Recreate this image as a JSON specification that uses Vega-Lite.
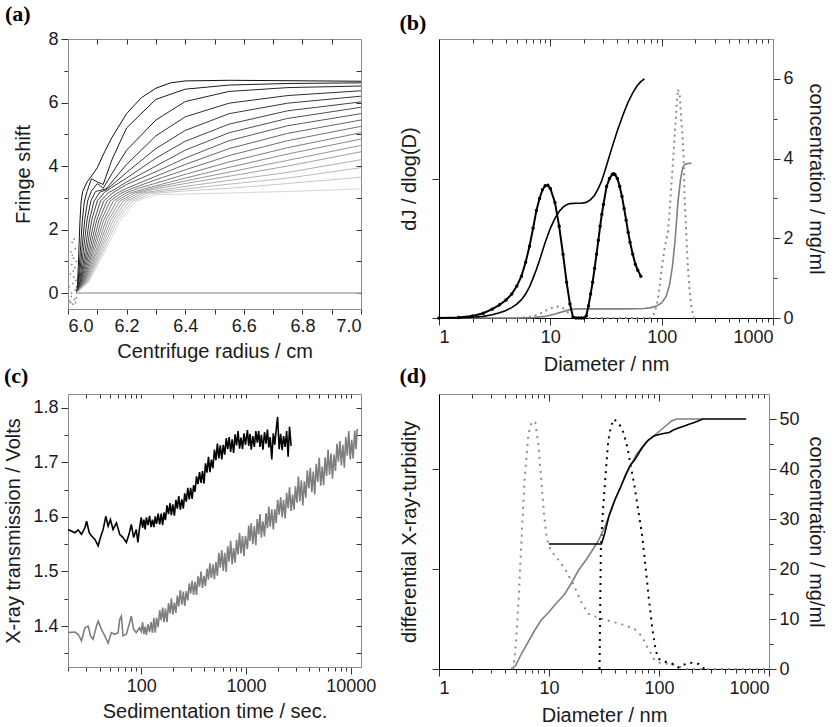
{
"$schema": "https://vega.github.io/schema/vega-lite/v6.json",
"background": "white",
"padding": {"left": 3, "top": 2, "right": 0, "bottom": 0},
"columns": 2,
"align": "each",
"spacing": {"row": -11, "column": 22},
"datasets": {
"a": [
{"k":0,"r":6.03,"f":0},{"k":0,"r":6.033,"f":0.35},{"k":0,"r":6.037,"f":1.3},{"k":0,"r":6.041,"f":2.3},{"k":0,"r":6.045,"f":2.9},{"k":0,"r":6.05,"f":3.2},{"k":0,"r":6.065,"f":3.5},{"k":0,"r":6.08,"f":3.68},{"k":0,"r":6.1,"f":3.95},{"k":0,"r":6.125,"f":4.45},{"k":0,"r":6.15,"f":4.9},{"k":0,"r":6.2,"f":5.65},{"k":0,"r":6.25,"f":6.15},{"k":0,"r":6.3,"f":6.45},{"k":0,"r":6.35,"f":6.62},{"k":0,"r":6.4,"f":6.68},{"k":0,"r":6.55,"f":6.7},{"k":0,"r":7,"f":6.67},
{"k":1,"r":6.03,"f":0},{"k":1,"r":6.035,"f":0.35},{"k":1,"r":6.042,"f":1.3},{"k":1,"r":6.049,"f":2.3},{"k":1,"r":6.056,"f":2.9},{"k":1,"r":6.065,"f":3.2},{"k":1,"r":6.08,"f":3.6},{"k":1,"r":6.1,"f":3.5},{"k":1,"r":6.12,"f":3.42},{"k":1,"r":6.15,"f":4.2},{"k":1,"r":6.2,"f":5.2},{"k":1,"r":6.3,"f":6.1},{"k":1,"r":6.4,"f":6.42},{"k":1,"r":6.55,"f":6.55},{"k":1,"r":6.75,"f":6.6},{"k":1,"r":7,"f":6.62},
{"k":2,"r":6.03,"f":0},{"k":2,"r":6.037,"f":0.35},{"k":2,"r":6.047,"f":1.3},{"k":2,"r":6.057,"f":2.3},{"k":2,"r":6.067,"f":2.9},{"k":2,"r":6.079,"f":3.2},{"k":2,"r":6.1,"f":3.45},{"k":2,"r":6.12,"f":3.3},{"k":2,"r":6.15,"f":3.76},{"k":2,"r":6.2,"f":4.5},{"k":2,"r":6.3,"f":5.45},{"k":2,"r":6.4,"f":6.03},{"k":2,"r":6.55,"f":6.35},{"k":2,"r":6.75,"f":6.47},{"k":2,"r":7,"f":6.52},
{"k":3,"r":6.03,"f":0},{"k":3,"r":6.04,"f":0.35},{"k":3,"r":6.052,"f":1.3},{"k":3,"r":6.065,"f":2.3},{"k":3,"r":6.078,"f":2.9},{"k":3,"r":6.094,"f":3.2},{"k":3,"r":6.13,"f":3.28},{"k":3,"r":6.15,"f":3.5},{"k":3,"r":6.2,"f":4.05},{"k":3,"r":6.3,"f":4.95},{"k":3,"r":6.4,"f":5.55},{"k":3,"r":6.55,"f":5.98},{"k":3,"r":6.75,"f":6.22},{"k":3,"r":7,"f":6.37},
{"k":4,"r":6.03,"f":0},{"k":4,"r":6.042,"f":0.35},{"k":4,"r":6.058,"f":1.3},{"k":4,"r":6.073,"f":2.3},{"k":4,"r":6.089,"f":2.9},{"k":4,"r":6.109,"f":3.18},{"k":4,"r":6.13,"f":3.25},{"k":4,"r":6.15,"f":3.4},{"k":4,"r":6.2,"f":3.8},{"k":4,"r":6.3,"f":4.55},{"k":4,"r":6.4,"f":5.12},{"k":4,"r":6.55,"f":5.65},{"k":4,"r":6.75,"f":5.98},{"k":4,"r":7,"f":6.2},
{"k":5,"r":6.03,"f":0},{"k":5,"r":6.044,"f":0.35},{"k":5,"r":6.063,"f":1.3},{"k":5,"r":6.081,"f":2.3},{"k":5,"r":6.1,"f":2.9},{"k":5,"r":6.124,"f":3.17},{"k":5,"r":6.15,"f":3.33},{"k":5,"r":6.2,"f":3.62},{"k":5,"r":6.3,"f":4.25},{"k":5,"r":6.4,"f":4.78},{"k":5,"r":6.55,"f":5.32},{"k":5,"r":6.75,"f":5.74},{"k":5,"r":7,"f":6.02},
{"k":6,"r":6.03,"f":0},{"k":6,"r":6.046,"f":0.35},{"k":6,"r":6.068,"f":1.3},{"k":6,"r":6.09,"f":2.3},{"k":6,"r":6.111,"f":2.9},{"k":6,"r":6.138,"f":3.16},{"k":6,"r":6.16,"f":3.27},{"k":6,"r":6.2,"f":3.5},{"k":6,"r":6.3,"f":4.0},{"k":6,"r":6.4,"f":4.5},{"k":6,"r":6.55,"f":5.05},{"k":6,"r":6.75,"f":5.5},{"k":6,"r":7,"f":5.85},
{"k":7,"r":6.03,"f":0},{"k":7,"r":6.048,"f":0.35},{"k":7,"r":6.073,"f":1.3},{"k":7,"r":6.098,"f":2.3},{"k":7,"r":6.122,"f":2.9},{"k":7,"r":6.153,"f":3.16},{"k":7,"r":6.2,"f":3.42},{"k":7,"r":6.3,"f":3.82},{"k":7,"r":6.4,"f":4.25},{"k":7,"r":6.55,"f":4.8},{"k":7,"r":6.75,"f":5.27},{"k":7,"r":7,"f":5.65},
{"k":8,"r":6.03,"f":0},{"k":8,"r":6.051,"f":0.35},{"k":8,"r":6.078,"f":1.3},{"k":8,"r":6.106,"f":2.3},{"k":8,"r":6.133,"f":2.9},{"k":8,"r":6.168,"f":3.15},{"k":8,"r":6.2,"f":3.3},{"k":8,"r":6.3,"f":3.68},{"k":8,"r":6.4,"f":4.05},{"k":8,"r":6.55,"f":4.55},{"k":8,"r":6.75,"f":5.03},{"k":8,"r":7,"f":5.45},
{"k":9,"r":6.03,"f":0},{"k":9,"r":6.053,"f":0.35},{"k":9,"r":6.083,"f":1.3},{"k":9,"r":6.114,"f":2.3},{"k":9,"r":6.144,"f":2.9},{"k":9,"r":6.182,"f":3.15},{"k":9,"r":6.22,"f":3.3},{"k":9,"r":6.3,"f":3.57},{"k":9,"r":6.4,"f":3.88},{"k":9,"r":6.55,"f":4.33},{"k":9,"r":6.75,"f":4.8},{"k":9,"r":7,"f":5.25},
{"k":10,"r":6.03,"f":0},{"k":10,"r":6.055,"f":0.35},{"k":10,"r":6.088,"f":1.3},{"k":10,"r":6.122,"f":2.3},{"k":10,"r":6.155,"f":2.9},{"k":10,"r":6.197,"f":3.15},{"k":10,"r":6.24,"f":3.3},{"k":10,"r":6.3,"f":3.46},{"k":10,"r":6.4,"f":3.74},{"k":10,"r":6.55,"f":4.13},{"k":10,"r":6.75,"f":4.58},{"k":10,"r":7,"f":5.05},
{"k":11,"r":6.03,"f":0},{"k":11,"r":6.057,"f":0.35},{"k":11,"r":6.094,"f":1.3},{"k":11,"r":6.13,"f":2.3},{"k":11,"r":6.166,"f":2.9},{"k":11,"r":6.212,"f":3.15},{"k":11,"r":6.26,"f":3.28},{"k":11,"r":6.3,"f":3.38},{"k":11,"r":6.4,"f":3.62},{"k":11,"r":6.55,"f":3.96},{"k":11,"r":6.75,"f":4.38},{"k":11,"r":7,"f":4.85},
{"k":12,"r":6.03,"f":0},{"k":12,"r":6.059,"f":0.35},{"k":12,"r":6.099,"f":1.3},{"k":12,"r":6.138,"f":2.3},{"k":12,"r":6.177,"f":2.9},{"k":12,"r":6.227,"f":3.15},{"k":12,"r":6.3,"f":3.33},{"k":12,"r":6.4,"f":3.53},{"k":12,"r":6.55,"f":3.81},{"k":12,"r":6.75,"f":4.18},{"k":12,"r":7,"f":4.65},
{"k":13,"r":6.03,"f":0},{"k":13,"r":6.062,"f":0.35},{"k":13,"r":6.104,"f":1.3},{"k":13,"r":6.146,"f":2.3},{"k":13,"r":6.188,"f":2.9},{"k":13,"r":6.241,"f":3.15},{"k":13,"r":6.3,"f":3.28},{"k":13,"r":6.4,"f":3.45},{"k":13,"r":6.55,"f":3.68},{"k":13,"r":6.75,"f":4.0},{"k":13,"r":7,"f":4.45},
{"k":14,"r":6.03,"f":0},{"k":14,"r":6.064,"f":0.35},{"k":14,"r":6.109,"f":1.3},{"k":14,"r":6.154,"f":2.3},{"k":14,"r":6.199,"f":2.9},{"k":14,"r":6.256,"f":3.15},{"k":14,"r":6.3,"f":3.22},{"k":14,"r":6.4,"f":3.36},{"k":14,"r":6.55,"f":3.55},{"k":14,"r":6.75,"f":3.8},{"k":14,"r":7,"f":4.2},
{"k":15,"r":6.03,"f":0},{"k":15,"r":6.066,"f":0.35},{"k":15,"r":6.114,"f":1.3},{"k":15,"r":6.162,"f":2.3},{"k":15,"r":6.21,"f":2.9},{"k":15,"r":6.271,"f":3.15},{"k":15,"r":6.4,"f":3.28},{"k":15,"r":6.55,"f":3.43},{"k":15,"r":6.75,"f":3.62},{"k":15,"r":7,"f":3.95},
{"k":16,"r":6.03,"f":0},{"k":16,"r":6.068,"f":0.35},{"k":16,"r":6.119,"f":1.3},{"k":16,"r":6.17,"f":2.3},{"k":16,"r":6.221,"f":2.9},{"k":16,"r":6.285,"f":3.13},{"k":16,"r":6.4,"f":3.22},{"k":16,"r":6.55,"f":3.3},{"k":16,"r":6.75,"f":3.45},{"k":16,"r":7,"f":3.65},
{"k":17,"r":6.03,"f":0},{"k":17,"r":6.071,"f":0.35},{"k":17,"r":6.125,"f":1.3},{"k":17,"r":6.179,"f":2.3},{"k":17,"r":6.233,"f":2.9},{"k":17,"r":6.3,"f":3.1},{"k":17,"r":6.55,"f":3.15},{"k":17,"r":6.75,"f":3.2},{"k":17,"r":7,"f":3.28}
],
"an": [
{"r":6.004,"f":0.2},{"r":6.006,"f":-0.25},{"r":6.008,"f":0.6},{"r":6.01,"f":1.3},{"r":6.011,"f":-0.1},{"r":6.013,"f":0.9},{"r":6.014,"f":1.6},{"r":6.016,"f":0.3},{"r":6.017,"f":-0.35},{"r":6.019,"f":1.1},{"r":6.02,"f":0.5},{"r":6.021,"f":1.7},{"r":6.022,"f":-0.2},{"r":6.023,"f":0.8},{"r":6.024,"f":0.1},{"r":6.025,"f":1.4},{"r":6.026,"f":-0.3},{"r":6.027,"f":0.4},{"r":6.028,"f":1.0},{"r":6.029,"f":-0.15},{"r":6.012,"f":0.0},{"r":6.018,"f":0.7},{"r":6.015,"f":1.2},{"r":6.009,"f":-0.3},{"r":6.03,"f":0.2}
],
"ab": [{"r":6.03,"f":0},{"r":7,"f":0}],
"b_bd": [
{"d":1,"v":0},{"d":1.5,"v":0.01},{"d":2,"v":0.05},{"d":2.5,"v":0.12},{"d":3,"v":0.22},{"d":3.5,"v":0.33},{"d":4,"v":0.45},{"d":4.5,"v":0.6},{"d":5,"v":0.8},{"d":5.5,"v":1.05},{"d":6,"v":1.4},{"d":6.5,"v":1.8},{"d":7,"v":2.25},{"d":7.5,"v":2.7},{"d":8,"v":3.0},{"d":8.5,"v":3.22},{"d":9,"v":3.32},{"d":9.5,"v":3.33},{"d":10,"v":3.25},{"d":11,"v":2.9},{"d":12,"v":2.3},{"d":13,"v":1.6},{"d":14,"v":0.9},{"d":15,"v":0.35},{"d":16,"v":0.02},{"d":17,"v":0},{"d":18,"v":0},{"d":19,"v":0},{"d":20,"v":0},{"d":21,"v":0.05},{"d":22,"v":0.3},{"d":23,"v":0.6},{"d":24,"v":0.9},{"d":25,"v":1.25},{"d":26,"v":1.6},{"d":27,"v":1.95},{"d":28,"v":2.3},{"d":29,"v":2.6},{"d":30,"v":2.85},{"d":32,"v":3.3},{"d":34,"v":3.5},{"d":36,"v":3.6},{"d":37,"v":3.62},{"d":38,"v":3.6},{"d":40,"v":3.5},{"d":42,"v":3.3},{"d":44,"v":3.05},{"d":46,"v":2.75},{"d":48,"v":2.45},{"d":50,"v":2.15},{"d":52,"v":1.9},{"d":55,"v":1.6},{"d":58,"v":1.35},{"d":61,"v":1.2},{"d":65,"v":1.05}
],
"b_bs": [
{"d":1,"v":0},{"d":1.5,"v":0.005},{"d":2,"v":0.02},{"d":2.5,"v":0.04},{"d":3,"v":0.08},{"d":3.5,"v":0.13},{"d":4,"v":0.19},{"d":4.5,"v":0.26},{"d":5,"v":0.35},{"d":5.5,"v":0.46},{"d":6,"v":0.6},{"d":6.5,"v":0.78},{"d":7,"v":1.0},{"d":7.5,"v":1.22},{"d":8,"v":1.45},{"d":8.5,"v":1.68},{"d":9,"v":1.9},{"d":10,"v":2.25},{"d":11,"v":2.5},{"d":12,"v":2.67},{"d":13,"v":2.78},{"d":14,"v":2.84},{"d":15,"v":2.87},{"d":17,"v":2.88},{"d":19,"v":2.88},{"d":21,"v":2.9},{"d":23,"v":2.97},{"d":25,"v":3.08},{"d":27,"v":3.25},{"d":29,"v":3.45},{"d":31,"v":3.7},{"d":33,"v":3.95},{"d":36,"v":4.3},{"d":40,"v":4.7},{"d":45,"v":5.1},{"d":50,"v":5.42},{"d":55,"v":5.65},{"d":60,"v":5.82},{"d":65,"v":5.93},{"d":70,"v":6.0}
],
"b_gs": [
{"d":1,"v":0},{"d":5,"v":0},{"d":7,"v":0.01},{"d":9,"v":0.04},{"d":11,"v":0.1},{"d":13,"v":0.16},{"d":15,"v":0.21},{"d":17,"v":0.23},{"d":20,"v":0.23},{"d":30,"v":0.23},{"d":50,"v":0.23},{"d":70,"v":0.24},{"d":80,"v":0.26},{"d":90,"v":0.3},{"d":100,"v":0.38},{"d":110,"v":0.55},{"d":118,"v":0.85},{"d":125,"v":1.3},{"d":132,"v":1.95},{"d":140,"v":2.9},{"d":148,"v":3.5},{"d":155,"v":3.78},{"d":162,"v":3.86},{"d":175,"v":3.88},{"d":185,"v":3.88}
],
"b_gd": [
{"d":5,"v":0},{"d":7,"v":0.04},{"d":8,"v":0.1},{"d":9,"v":0.18},{"d":10,"v":0.24},{"d":11,"v":0.28},{"d":12,"v":0.29},{"d":13,"v":0.25},{"d":14,"v":0.17},{"d":15,"v":0.09},{"d":16,"v":0.03},{"d":17,"v":0},{"d":80,"v":0},{"d":85,"v":0.1},{"d":90,"v":0.3},{"d":95,"v":0.7},{"d":100,"v":1.25},{"d":107,"v":1.8},{"d":114,"v":2.15},{"d":118,"v":2.7},{"d":122,"v":3.3},{"d":127,"v":4.0},{"d":131,"v":4.6},{"d":136,"v":5.3},{"d":140,"v":5.74},{"d":145,"v":5.6},{"d":150,"v":5.0},{"d":156,"v":4.3},{"d":161,"v":2.95},{"d":167,"v":2.0},{"d":172,"v":1.28},{"d":178,"v":0.7},{"d":185,"v":0.28},{"d":191,"v":0.08},{"d":197,"v":0},{"d":210,"v":0}
],
"ck": [
{"t":20,"v":1.577},{"t":23.3,"v":1.571},{"t":25,"v":1.576},{"t":26.9,"v":1.568},{"t":29,"v":1.58},{"t":30.1,"v":1.592},{"t":31.9,"v":1.571},{"t":33.6,"v":1.565},{"t":36,"v":1.559},{"t":38.8,"v":1.547},{"t":40.8,"v":1.562},{"t":43.3,"v":1.577},{"t":45.9,"v":1.601},{"t":48.3,"v":1.583},{"t":50.8,"v":1.595},{"t":53.8,"v":1.577},{"t":57.9,"v":1.589},{"t":62.3,"v":1.568},{"t":67,"v":1.562},{"t":72.1,"v":1.553},{"t":76.4,"v":1.568},{"t":80.4,"v":1.586},{"t":84.6,"v":1.562},{"t":89.6,"v":1.577},{"t":92.9,"v":1.553},{"t":96.4,"v":1.58},
{"t":100,"v":1.599},{"t":103,"v":1.58},{"t":106,"v":1.595},{"t":109,"v":1.577},{"t":112,"v":1.599},{"t":116,"v":1.585},{"t":120,"v":1.602},{"t":124,"v":1.581},{"t":128,"v":1.595},{"t":132,"v":1.581},{"t":136,"v":1.601},{"t":140,"v":1.587},{"t":145,"v":1.606},{"t":150,"v":1.586},{"t":155,"v":1.606},{"t":160,"v":1.585},{"t":165,"v":1.608},{"t":170,"v":1.594},{"t":176,"v":1.621},{"t":182,"v":1.605},{"t":188,"v":1.625},{"t":194,"v":1.603},{"t":200,"v":1.623},{"t":207,"v":1.602},{"t":214,"v":1.631},{"t":221,"v":1.615},{"t":228,"v":1.638},{"t":236,"v":1.613},{"t":244,"v":1.632},{"t":252,"v":1.615},{"t":260,"v":1.643},{"t":269,"v":1.628},{"t":278,"v":1.653},{"t":287,"v":1.632},{"t":296,"v":1.653},{"t":306,"v":1.633},{"t":316,"v":1.658},{"t":326,"v":1.646},{"t":337,"v":1.674},{"t":348,"v":1.66},{"t":360,"v":1.682},{"t":372,"v":1.662},{"t":384,"v":1.684},{"t":397,"v":1.661},{"t":410,"v":1.698},{"t":424,"v":1.681},{"t":438,"v":1.71},{"t":452,"v":1.682},{"t":467,"v":1.705},{"t":483,"v":1.689},{"t":499,"v":1.723},{"t":516,"v":1.704},{"t":533,"v":1.734},{"t":550,"v":1.707},{"t":568,"v":1.731},{"t":587,"v":1.705},{"t":606,"v":1.732},{"t":626,"v":1.714},{"t":647,"v":1.744},{"t":668,"v":1.724},{"t":690,"v":1.746},{"t":713,"v":1.719},{"t":737,"v":1.742},{"t":761,"v":1.717},{"t":786,"v":1.751},{"t":812,"v":1.731},{"t":839,"v":1.757},{"t":867,"v":1.725},{"t":895,"v":1.745},{"t":925,"v":1.724},{"t":955,"v":1.753},{"t":987,"v":1.732},{"t":1030,"v":1.759},{"t":1060,"v":1.73},{"t":1090,"v":1.752},{"t":1120,"v":1.723},{"t":1160,"v":1.748},{"t":1200,"v":1.728},{"t":1240,"v":1.757},{"t":1280,"v":1.736},{"t":1320,"v":1.757},{"t":1360,"v":1.728},{"t":1400,"v":1.75},{"t":1450,"v":1.723},{"t":1500,"v":1.755},{"t":1550,"v":1.734},{"t":1600,"v":1.76},{"t":1650,"v":1.727},{"t":1700,"v":1.746},{"t":1760,"v":1.705},{"t":1820,"v":1.753},{"t":1880,"v":1.732},{"t":1940,"v":1.76},{"t":2000,"v":1.783},{"t":2070,"v":1.724},{"t":2140,"v":1.752},{"t":2210,"v":1.722},{"t":2280,"v":1.748},{"t":2360,"v":1.728},{"t":2440,"v":1.757},{"t":2520,"v":1.71},{"t":2600,"v":1.765},{"t":2690,"v":1.73}
],
"cg": [
{"t":20,"v":1.388},{"t":23.3,"v":1.389},{"t":25,"v":1.385},{"t":26.9,"v":1.373},{"t":29,"v":1.397},{"t":31.2,"v":1.4},{"t":32.8,"v":1.382},{"t":34.7,"v":1.376},{"t":37.4,"v":1.4},{"t":38.8,"v":1.409},{"t":41.7,"v":1.394},{"t":44.9,"v":1.382},{"t":48.3,"v":1.369},{"t":51.9,"v":1.388},{"t":55.8,"v":1.385},{"t":60.1,"v":1.388},{"t":62.3,"v":1.412},{"t":64.6,"v":1.418},{"t":67,"v":1.382},{"t":72.1,"v":1.385},{"t":77.5,"v":1.406},{"t":80.4,"v":1.418},{"t":84.6,"v":1.394},{"t":89.6,"v":1.388},{"t":96.4,"v":1.397},
{"t":100,"v":1.39},{"t":103,"v":1.407},{"t":106,"v":1.385},{"t":109,"v":1.399},{"t":112,"v":1.384},{"t":116,"v":1.403},{"t":120,"v":1.389},{"t":124,"v":1.407},{"t":128,"v":1.388},
{"t":132,"v":1.415},{"t":136,"v":1.388},{"t":140,"v":1.415},{"t":145,"v":1.398},{"t":150,"v":1.429},{"t":155,"v":1.411},{"t":160,"v":1.434},{"t":165,"v":1.407},{"t":170,"v":1.432},{"t":176,"v":1.407},{"t":182,"v":1.442},{"t":188,"v":1.423},{"t":194,"v":1.451},{"t":200,"v":1.421},{"t":207,"v":1.443},{"t":214,"v":1.424},{"t":221,"v":1.456},{"t":228,"v":1.436},{"t":236,"v":1.466},{"t":244,"v":1.439},{"t":252,"v":1.463},{"t":260,"v":1.437},{"t":269,"v":1.464},{"t":278,"v":1.447},{"t":287,"v":1.478},{"t":296,"v":1.46},{"t":306,"v":1.483},{"t":316,"v":1.457},{"t":326,"v":1.481},{"t":337,"v":1.457},{"t":348,"v":1.491},{"t":360,"v":1.472},{"t":372,"v":1.5},{"t":384,"v":1.47},{"t":397,"v":1.492},{"t":410,"v":1.473},{"t":424,"v":1.505},{"t":438,"v":1.485},{"t":452,"v":1.515},{"t":467,"v":1.488},{"t":483,"v":1.513},{"t":499,"v":1.486},{"t":516,"v":1.517},{"t":533,"v":1.492},{"t":550,"v":1.534},{"t":568,"v":1.507},{"t":587,"v":1.539},{"t":606,"v":1.501},{"t":626,"v":1.534},{"t":647,"v":1.499},{"t":668,"v":1.546},{"t":690,"v":1.518},{"t":713,"v":1.556},{"t":737,"v":1.513},{"t":761,"v":1.543},{"t":786,"v":1.516},{"t":812,"v":1.558},{"t":839,"v":1.531},{"t":867,"v":1.571},{"t":895,"v":1.533},{"t":925,"v":1.565},{"t":955,"v":1.528},{"t":987,"v":1.565},{"t":1030,"v":1.541},{"t":1060,"v":1.584},{"t":1090,"v":1.556},{"t":1120,"v":1.588},{"t":1160,"v":1.55},{"t":1200,"v":1.583},{"t":1240,"v":1.548},{"t":1280,"v":1.596},{"t":1320,"v":1.568},{"t":1360,"v":1.605},{"t":1400,"v":1.562},{"t":1450,"v":1.592},{"t":1500,"v":1.564},{"t":1550,"v":1.607},{"t":1600,"v":1.579},{"t":1650,"v":1.619},{"t":1700,"v":1.582},{"t":1760,"v":1.614},{"t":1820,"v":1.577},{"t":1880,"v":1.614},{"t":1940,"v":1.589},{"t":2000,"v":1.631},{"t":2070,"v":1.604},{"t":2140,"v":1.636},{"t":2210,"v":1.599},{"t":2280,"v":1.631},{"t":2360,"v":1.597},{"t":2440,"v":1.644},{"t":2520,"v":1.616},{"t":2600,"v":1.654},{"t":2690,"v":1.611},{"t":2780,"v":1.641},{"t":2870,"v":1.613},{"t":2960,"v":1.656},{"t":3060,"v":1.626},{"t":3160,"v":1.674},{"t":3260,"v":1.628},{"t":3370,"v":1.667},{"t":3480,"v":1.621},{"t":3600,"v":1.665},{"t":3720,"v":1.635},{"t":3840,"v":1.685},{"t":3970,"v":1.652},{"t":4100,"v":1.69},{"t":4240,"v":1.645},{"t":4380,"v":1.683},{"t":4520,"v":1.641},{"t":4670,"v":1.697},{"t":4830,"v":1.664},{"t":4990,"v":1.708},{"t":5160,"v":1.657},{"t":5330,"v":1.692},{"t":5500,"v":1.658},{"t":5680,"v":1.709},{"t":5870,"v":1.675},{"t":6060,"v":1.723},{"t":6260,"v":1.677},{"t":6470,"v":1.716},{"t":6680,"v":1.67},{"t":6900,"v":1.714},{"t":7130,"v":1.684},{"t":7370,"v":1.734},{"t":7610,"v":1.701},{"t":7860,"v":1.739},{"t":8120,"v":1.694},{"t":8390,"v":1.732},{"t":8670,"v":1.69},{"t":8950,"v":1.746},{"t":9250,"v":1.712},{"t":9550,"v":1.757},{"t":9870,"v":1.705},{"t":10200,"v":1.741},{"t":10500,"v":1.707},{"t":10900,"v":1.758},{"t":11200,"v":1.724},{"t":11500,"v":1.761}
],
"d_gd": [
{"d":4.6,"v":0},{"d":4.8,"v":1},{"d":5,"v":5},{"d":5.3,"v":14},{"d":5.6,"v":25},{"d":6,"v":38},{"d":6.5,"v":47},{"d":7,"v":49.5},{"d":7.5,"v":49.3},{"d":8,"v":45},{"d":8.5,"v":38},{"d":9,"v":31},{"d":9.5,"v":26.5},{"d":10,"v":24.5},{"d":11,"v":23},{"d":12,"v":22},{"d":14,"v":20},{"d":17,"v":16.5},{"d":20,"v":13},{"d":23,"v":11},{"d":28,"v":10.3},{"d":34,"v":9.7},{"d":45,"v":9},{"d":60,"v":8},{"d":70,"v":6.5},{"d":80,"v":4},{"d":90,"v":2},{"d":100,"v":1.3},{"d":115,"v":1.1},{"d":130,"v":1.0},{"d":150,"v":0.5},{"d":180,"v":0},{"d":1000,"v":0}
],
"d_bd": [
{"d":28.8,"v":0},{"d":29.2,"v":12},{"d":29.6,"v":24},{"d":31,"v":32},{"d":33,"v":40},{"d":34.5,"v":45.5},{"d":36.5,"v":48.5},{"d":39,"v":50},{"d":42,"v":49.3},{"d":45,"v":48.5},{"d":48,"v":47},{"d":52,"v":44},{"d":56,"v":40},{"d":60,"v":36.5},{"d":65,"v":31.5},{"d":70,"v":27},{"d":75,"v":21},{"d":80,"v":15},{"d":87,"v":8},{"d":93,"v":4},{"d":97,"v":2.5},{"d":100,"v":2},{"d":110,"v":1.5},{"d":124,"v":1.3},{"d":140,"v":0.8},{"d":150,"v":0.3},{"d":160,"v":0.7},{"d":175,"v":1},{"d":190,"v":1.3},{"d":210,"v":1.1},{"d":230,"v":1},{"d":245,"v":0.5},{"d":260,"v":0}
],
"d_gs": [
{"d":4.6,"v":0},{"d":5,"v":0.8},{"d":5.6,"v":3},{"d":6.5,"v":5.5},{"d":7.4,"v":7.7},{"d":8.5,"v":9.8},{"d":9.8,"v":11.2},{"d":11.5,"v":13},{"d":13.9,"v":15},{"d":16,"v":17.2},{"d":18.5,"v":19.7},{"d":22,"v":22},{"d":28,"v":25.6},{"d":33,"v":29},{"d":37.5,"v":32.5},{"d":45,"v":36.5},{"d":52.7,"v":39.8},{"d":62,"v":42.8},{"d":75,"v":45.2},{"d":88,"v":46.5},{"d":100,"v":47.5},{"d":115,"v":48.6},{"d":130,"v":49.6},{"d":145,"v":50},{"d":250,"v":50}
],
"d_bs": [
{"d":10,"v":25},{"d":30,"v":25},{"d":32,"v":27},{"d":35,"v":30.5},{"d":40,"v":34},{"d":45,"v":36.5},{"d":50,"v":39},{"d":55,"v":40.8},{"d":60,"v":41.8},{"d":70,"v":44.2},{"d":80,"v":45.8},{"d":90,"v":46.6},{"d":100,"v":46.9},{"d":110,"v":47.1},{"d":124,"v":47.3},{"d":135,"v":47.8},{"d":150,"v":48.2},{"d":170,"v":48.6},{"d":190,"v":49},{"d":210,"v":49.3},{"d":250,"v":50},{"d":620,"v":50}
]
},
"concat": [
{
"width": 293, "height": 270,
"title": {"text": "(a)", "anchor": "start", "frame": "bounds", "font": "Liberation Serif", "fontSize": 22, "fontWeight": "bold", "color": "#000", "dx": -9, "offset": 4},
"layer": [
{"data": {"name": "an"}, "mark": {"type": "point", "filled": true, "size": 3, "color": "#666", "opacity": 0.8},
 "encoding": {"x": {"field": "r", "type": "quantitative", "scale": {"domain": [6, 7], "nice": false, "zero": false}, "axis": null}, "y": {"field": "f", "type": "quantitative", "scale": {"domain": [-0.5, 8], "nice": false, "zero": false}, "axis": null}}},
{"data": {"name": "ab"}, "mark": {"type": "line", "color": "#aaaaaa", "strokeWidth": 1.5},
 "encoding": {"x": {"field": "r", "type": "quantitative", "scale": {"domain": [6, 7], "nice": false, "zero": false}, "axis": {"orient": "top", "labels": false, "title": null, "domain": false, "values": [6.1, 6.2, 6.3, 6.4, 6.5, 6.6, 6.7, 6.8, 6.9], "tickSize": -5}}, "y": {"field": "f", "type": "quantitative", "scale": {"domain": [-0.5, 8], "nice": false, "zero": false}, "axis": {"orient": "right", "labels": false, "title": null, "domain": false, "values": [0, 1, 2, 3, 4, 5, 6, 7], "tickSize": -5}}}},
{"data": {"name": "a"}, "mark": {"type": "line", "strokeWidth": 1},
 "encoding": {"x": {"field": "r", "type": "quantitative", "scale": {"domain": [6, 7], "nice": false, "zero": false}, "axis": {"title": "Centrifuge radius / cm", "values": [6, 6.1, 6.2, 6.3, 6.4, 6.5, 6.6, 6.7, 6.8, 6.9, 7], "labelExpr": "round(datum.value*10) % 2 == 0 ? format(datum.value, '.1f') : ''", "titlePadding": 6, "tickSize": 5}},
  "y": {"field": "f", "type": "quantitative", "scale": {"domain": [-0.5, 8], "nice": false, "zero": false}, "axis": {"title": "Fringe shift", "values": [0, 1, 2, 3, 4, 5, 6, 7, 8], "labelExpr": "datum.value % 2 == 0 ? datum.label : ''", "tickSize": {"condition": {"test": "datum.value % 2 == 0", "value": 7}, "value": 4}, "titlePadding": 14}},
  "detail": {"field": "k"}, "color": {"field": "k", "type": "quantitative", "scale": {"range": ["#111111", "#d6d6d6"]}, "legend": null}}}
],
"resolve": {"axis": {"x": "independent", "y": "independent"}}
},
{
"width": 334, "height": 279,
"title": {"text": "(b)", "anchor": "start", "frame": "bounds", "font": "Liberation Serif", "fontSize": 22, "fontWeight": "bold", "color": "#000", "offset": 4},
"layer": [
{"data": {"name": "b_gd"}, "mark": {"type": "line", "color": "#8c8c8c", "strokeWidth": 2, "strokeDash": [2, 4]},
 "encoding": {"x": {"field": "d", "type": "quantitative", "scale": {"type": "log", "domain": [1, 1000], "nice": false}, "axis": {"title": "Diameter / nm", "values": [1,2,3,4,5,6,7,8,9,10,20,30,40,50,60,70,80,90,100,200,300,400,500,600,700,800,900,1000], "labelExpr": "indexof([1,10,100,1000], datum.value) >= 0 ? format(datum.value, 'd') : ''", "labelOverlap": false, "tickSize": {"condition": {"test": "indexof([1,10,100,1000], datum.value) >= 0", "value": 7}, "value": 4}, "titlePadding": 8, "domainColor": "#000"}},
  "y": {"field": "v", "type": "quantitative", "scale": {"domain": [0, 7], "nice": false}, "axis": {"orient": "left", "title": "dJ / dlog(D)", "labels": false, "values": [0, 3.5], "titlePadding": 12, "domainColor": "#000"}}}},
{"data": {"name": "b_gs"}, "mark": {"type": "line", "color": "#808080", "strokeWidth": 1.6},
 "encoding": {"x": {"field": "d", "type": "quantitative", "axis": {"orient": "top", "labels": false, "title": null, "domain": false, "values": [2,3,4,5,6,7,8,9,10,20,30,40,50,60,70,80,90,100,200,300,400,500,600,700,800,900], "tickSize": {"condition": {"test": "indexof([10,100], datum.value) >= 0", "value": -7}, "value": -4}}},
  "y": {"field": "v", "type": "quantitative", "axis": {"orient": "right", "title": "concentration / mg/ml", "values": [0, 1, 2, 3, 4, 5, 6], "labelExpr": "datum.value % 2 == 0 ? datum.label : ''", "tickSize": {"condition": {"test": "datum.value % 2 == 0", "value": 7}, "value": 4}, "titlePadding": 12}}}},
{"data": {"name": "b_bs"}, "mark": {"type": "line", "color": "#000", "strokeWidth": 1.6}, "encoding": {"x": {"field": "d", "type": "quantitative", "axis": null}, "y": {"field": "v", "type": "quantitative", "axis": null}}},
{"data": {"name": "b_bd"}, "mark": {"type": "line", "color": "#000", "strokeWidth": 2}, "encoding": {"x": {"field": "d", "type": "quantitative", "axis": null}, "y": {"field": "v", "type": "quantitative", "axis": null}}},
{"data": {"name": "b_bd"}, "mark": {"type": "point", "filled": true, "color": "#000", "size": 12, "opacity": 1}, "encoding": {"x": {"field": "d", "type": "quantitative", "axis": null}, "y": {"field": "v", "type": "quantitative", "axis": null}}}
],
"resolve": {"axis": {"x": "independent", "y": "independent"}}
},
{
"width": 293, "height": 273,
"title": {"text": "(c)", "anchor": "start", "frame": "bounds", "font": "Liberation Serif", "fontSize": 22, "fontWeight": "bold", "color": "#000", "offset": 6},
"layer": [
{"data": {"name": "cg"}, "mark": {"type": "line", "color": "#7f7f7f", "strokeWidth": 1.6},
 "encoding": {"x": {"field": "t", "type": "quantitative", "scale": {"type": "log", "domain": [20, 12500], "nice": false}, "axis": {"title": "Sedimentation time / sec.", "values": [20,30,40,50,60,70,80,90,100,200,300,400,500,600,700,800,900,1000,2000,3000,4000,5000,6000,7000,8000,9000,10000], "labelExpr": "indexof([100,1000,10000], datum.value) >= 0 ? format(datum.value, 'd') : ''", "labelOverlap": false, "tickSize": {"condition": {"test": "indexof([100,1000,10000], datum.value) >= 0", "value": 7}, "value": 4}, "titlePadding": 6}},
  "y": {"field": "v", "type": "quantitative", "scale": {"domain": [1.325, 1.825], "nice": false, "zero": false}, "axis": {"title": "X-ray transmission / Volts", "values": [1.35, 1.4, 1.45, 1.5, 1.55, 1.6, 1.65, 1.7, 1.75, 1.8], "labelExpr": "round(datum.value*100) % 10 == 0 ? format(datum.value, '.1f') : ''", "tickSize": {"condition": {"test": "round(datum.value*100) % 10 == 0", "value": 7}, "value": 4}, "titlePadding": 9}}}},
{"data": {"name": "ck"}, "mark": {"type": "line", "color": "#000", "strokeWidth": 1.6},
 "encoding": {"x": {"field": "t", "type": "quantitative", "axis": {"orient": "top", "labels": false, "title": null, "domain": false, "values": [30,40,50,60,70,80,90,100,200,300,400,500,600,700,800,900,1000,2000,3000,4000,5000,6000,7000,8000,9000,10000], "tickSize": -4}},
  "y": {"field": "v", "type": "quantitative", "axis": {"orient": "right", "labels": false, "title": null, "domain": false, "values": [1.35, 1.4, 1.45, 1.5, 1.55, 1.6, 1.65, 1.7, 1.75, 1.8], "tickSize": -5}}}}
],
"resolve": {"axis": {"x": "independent", "y": "independent"}}
},
{
"width": 330, "height": 275,
"title": {"text": "(d)", "anchor": "start", "frame": "bounds", "font": "Liberation Serif", "fontSize": 22, "fontWeight": "bold", "color": "#000", "offset": 6},
"layer": [
{"data": {"name": "d_gd"}, "mark": {"type": "line", "color": "#8c8c8c", "strokeWidth": 2, "strokeDash": [2, 5]},
 "encoding": {"x": {"field": "d", "type": "quantitative", "scale": {"type": "log", "domain": [1, 1000], "nice": false}, "axis": {"title": "Diameter / nm", "values": [1,2,3,4,5,6,7,8,9,10,20,30,40,50,60,70,80,90,100,200,300,400,500,600,700,800,900,1000], "labelExpr": "indexof([1,10,100,1000], datum.value) >= 0 ? format(datum.value, 'd') : ''", "labelOverlap": false, "tickSize": {"condition": {"test": "indexof([1,10,100,1000], datum.value) >= 0", "value": 7}, "value": 4}, "titlePadding": 8, "domainColor": "#000"}},
  "y": {"field": "v", "type": "quantitative", "scale": {"domain": [0, 55], "nice": false}, "axis": {"orient": "left", "title": "differential X-ray-turbidity", "labels": false, "values": [0, 20, 40], "titlePadding": 12, "domainColor": "#000"}}}},
{"data": {"name": "d_bd"}, "mark": {"type": "line", "color": "#000", "strokeWidth": 2, "strokeDash": [2, 5]},
 "encoding": {"x": {"field": "d", "type": "quantitative", "axis": {"orient": "top", "labels": false, "title": null, "domain": false, "values": [2,3,4,5,6,7,8,9,10,20,30,40,50,60,70,80,90,100,200,300,400,500,600,700,800,900], "tickSize": {"condition": {"test": "indexof([10,100], datum.value) >= 0", "value": -7}, "value": -4}}},
  "y": {"field": "v", "type": "quantitative", "axis": {"orient": "right", "title": "concentration / mg/ml", "values": [0, 5, 10, 15, 20, 25, 30, 35, 40, 45, 50], "labelExpr": "datum.value % 10 == 0 ? datum.label : ''", "tickSize": {"condition": {"test": "datum.value % 10 == 0", "value": 7}, "value": 4}, "titlePadding": 6}}}},
{"data": {"name": "d_gs"}, "mark": {"type": "line", "color": "#808080", "strokeWidth": 1.6}, "encoding": {"x": {"field": "d", "type": "quantitative", "axis": null}, "y": {"field": "v", "type": "quantitative", "axis": null}}},
{"data": {"name": "d_bs"}, "mark": {"type": "line", "color": "#000", "strokeWidth": 1.6}, "encoding": {"x": {"field": "d", "type": "quantitative", "axis": null}, "y": {"field": "v", "type": "quantitative", "axis": null}}}
],
"resolve": {"axis": {"x": "independent", "y": "independent"}}
}
],
"config": {
"font": "Liberation Sans",
"view": {"stroke": "#8a8a8a", "strokeWidth": 1},
"axis": {"labelFontSize": 18, "titleFontSize": 20, "titleFontWeight": "normal", "labelColor": "#1a1a1a", "titleColor": "#1a1a1a", "tickColor": "#333333", "domainColor": "#8a8a8a", "tickSize": 7, "labelPadding": 3, "grid": false}
}
}
